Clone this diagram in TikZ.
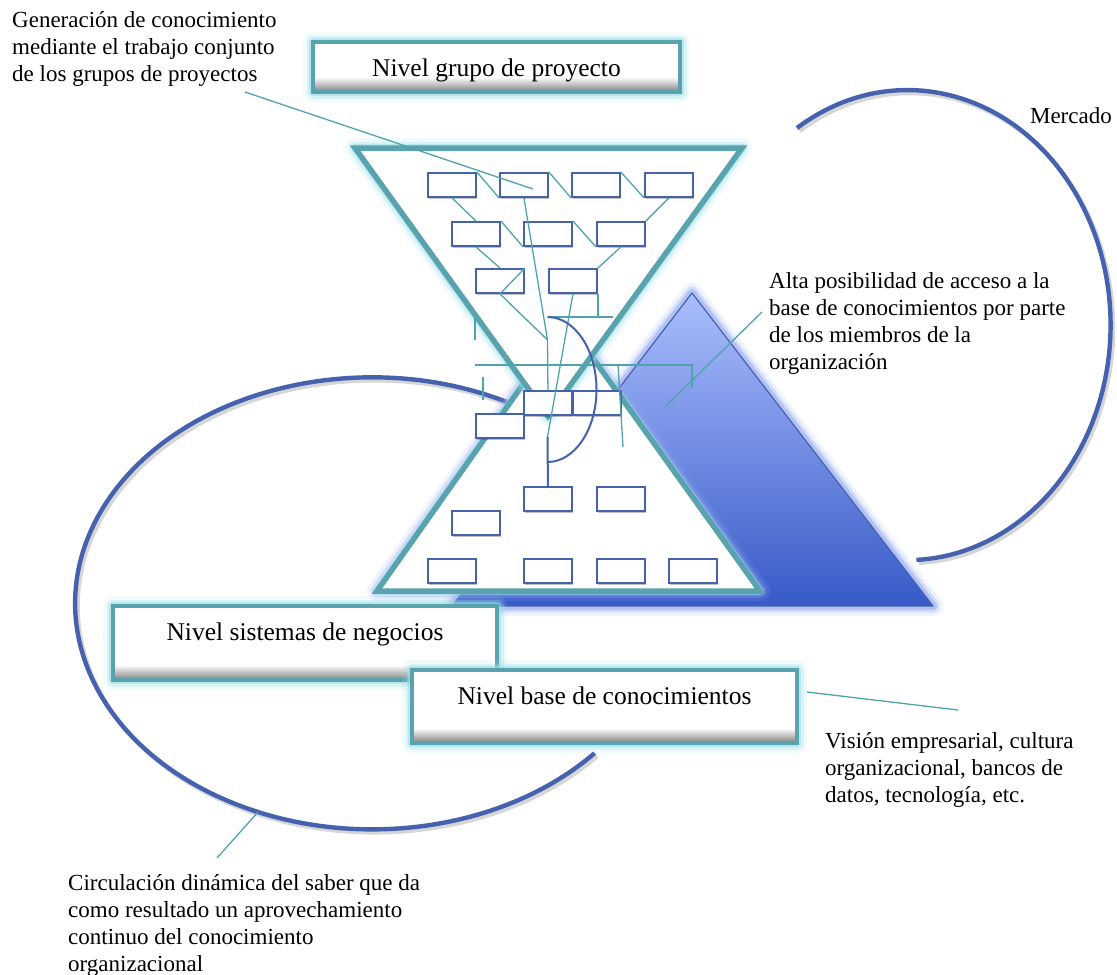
\documentclass[tikz,border=0pt]{standalone}
\usepackage{fontspec}
\setmainfont{Liberation Serif}
\usetikzlibrary{shadows}

\definecolor{tealedge}{RGB}{88,163,173}
\definecolor{tealthin}{RGB}{80,163,172}
\definecolor{glowcyan}{RGB}{160,222,232}
\definecolor{glowblue}{RGB}{150,172,240}
\definecolor{navy}{RGB}{70,98,174}
\definecolor{pyrtop}{RGB}{170,190,252}
\definecolor{pyrbot}{RGB}{55,90,200}

\tikzset{
  orgbox/.style={draw=navy, line width=1.9pt, fill=white, minimum width=48pt,
    minimum height=24pt, inner sep=0pt, anchor=north west,
    drop shadow={shadow xshift=1.5pt, shadow yshift=-2.5pt, opacity=0.25, fill=black}},
  conn/.style={draw=tealthin, line width=1.3pt},
  navyline/.style={draw=navy, line width=2pt},
  bigarc/.style={draw=navy, line width=4.4pt},
  arcshadow/.style={draw=black, line width=4.4pt, opacity=0.16},
  note/.style={anchor=base west, align=left, inner sep=0pt, font=\fontsize{23}{27}\selectfont},
  title/.style={anchor=base, inner sep=0pt, font=\fontsize{25.5}{30}\selectfont},
  glowA/.style={line width=20pt, opacity=0.15, line join=round, line cap=round},
  glowB/.style={line width=13pt, opacity=0.3, line join=round, line cap=round},
  glowC/.style={line width=8pt, opacity=0.55, line join=round, line cap=round},
}

% level box: name, x1, y1, x2, y2, text baseline, text
\newcommand\nivelbox[7]{%
  \draw[glowcyan,glowA] (#2,#3) rectangle (#4,#5);
  \draw[glowcyan,glowB] (#2,#3) rectangle (#4,#5);
  \draw[glowcyan,glowC] (#2,#3) rectangle (#4,#5);
  \node[fill=white, inner sep=0pt, minimum width={#4-#2}, minimum height={#5-#3}]
    (#1) at ({(#2+#4)/2},{(#3+#5)/2}) {};
  \shade[top color=white, bottom color=black!50] (#2,{#5-15}) rectangle (#4,#5);
  \draw[tealedge, line width=4.5pt] (#1.north west) rectangle (#1.south east);
  \node[title] (#1-text) at ({(#2+#4)/2},#6) {#7};
}

\begin{document}
\begin{tikzpicture}[x=1pt, y=-1pt]
\useasboundingbox (0,0) rectangle (1117,975);

% ---------- market and circulation arcs ----------
\draw[arcshadow] (799.5,131) arc[start angle=-123, end angle=87.5, x radius=203, y radius=235];
\draw[bigarc] (797,128) arc[start angle=-123, end angle=87.5, x radius=203, y radius=235];
\draw[arcshadow] (509.5,405) arc[start angle=-63, end angle=-318.5, x radius=297, y radius=226];
\draw[bigarc] (507,402) arc[start angle=-63, end angle=-318.5, x radius=297, y radius=226];

% ---------- knowledge base pyramid ----------
\coordinate (QA) at (692,293);
\coordinate (QB) at (452,606);
\coordinate (QC) at (933,606);
\draw[glowblue,glowA] (QA) -- (QB) -- (QC) -- cycle;
\draw[glowblue,glowB] (QA) -- (QB) -- (QC) -- cycle;
\draw[glowblue,glowC] (QA) -- (QB) -- (QC) -- cycle;
\shade[top color=pyrtop, bottom color=pyrbot] (QA) -- (QB) -- (QC) -- cycle;
\draw[navy, line width=1.2pt, line join=round] (QA) -- (QB) -- (QC) -- cycle;

% ---------- hourglass: lower triangle, then upper triangle over it ----------
\coordinate (TA) at (355,148);
\coordinate (TB) at (742,148);
\coordinate (TC) at (548,416);
\coordinate (BA) at (377,591);
\coordinate (BB) at (760,591);
\coordinate (BC) at (567,322);

\draw[glowblue,glowA] (BA) -- (BB) -- (BC) -- cycle;
\draw[glowblue,glowB] (BA) -- (BB) -- (BC) -- cycle;
\draw[glowcyan,glowC] (BA) -- (BB) -- (BC) -- cycle;
\fill[white] (BA) -- (BB) -- (BC) -- cycle;
\draw[tealedge, line width=5.5pt] (BA) -- (BB) -- (BC) -- cycle;

\draw[glowcyan,glowA] (TA) -- (TB) -- (TC) -- cycle;
\draw[glowcyan,glowB] (TA) -- (TB) -- (TC) -- cycle;
\draw[glowcyan,glowC] (TA) -- (TB) -- (TC) -- cycle;
\fill[white] (TA) -- (TB) -- (TC) -- cycle;
\draw[tealedge, line width=5.5pt] (TA) -- (TB) -- (TC) -- cycle;

% ---------- project groups (upper tree) ----------
\node[orgbox] (t1) at (427,172) {};
\node[orgbox] (t2) at (499,172) {};
\node[orgbox] (t3) at (571,172) {};
\node[orgbox] (t4) at (644,172) {};
\node[orgbox] (m1) at (451,221) {};
\node[orgbox] (m2) at (523,221) {};
\node[orgbox] (m3) at (596,221) {};
\node[orgbox] (n1) at (475,268) {};
\node[orgbox] (n2) at (548,268) {};

\draw[conn] (t1.north east) -- (t2.south west);
\draw[conn] (t2.north east) -- (t3.south west);
\draw[conn] (t3.north east) -- (t4.south west);
\draw[conn] (t1.south) -- (m1.north);
\draw[conn] (m1.north east) -- (m2.south west);
\draw[conn] (m2.north east) -- (m3.south west);
\draw[conn] (t4.south) -- (m3.north east);
\draw[conn] (m1.south) -- (n1.north);
\draw[conn] (m3.south) -- (n2.north east);

% ---------- business systems (centre and lower tree) ----------
\node[orgbox] (cA) at (523,390) {};
\node[orgbox] (cB) at (572,390) {};
\node[orgbox] (cC) at (475,413) {};
\node[orgbox] (b1) at (523,486) {};
\node[orgbox] (b2) at (596,486) {};
\node[orgbox] (b3) at (451,510) {};
\node[orgbox] (u1) at (427,558) {};
\node[orgbox] (u2) at (523,558) {};
\node[orgbox] (u3) at (596,558) {};
\node[orgbox] (u4) at (668,558) {};

\coordinate (j1) at (547.5,340);
\coordinate (j2) at (547.5,437);
\coordinate (j3) at (547.5,317);
\coordinate (h1) at (548,317);
\coordinate (h2) at (613,317);
\coordinate (g1) at (475,365);
\coordinate (g2) at (692,365);
\coordinate (g3) at (692,388);
\coordinate (s1) at (618,365);
\coordinate (s2) at (623,447);
\coordinate (v1) at (475,317);
\coordinate (v2) at (475,340);
\coordinate (w1) at (483,377);
\coordinate (w2) at (483,400);

\draw[conn] (n1.north east) -- (n1.south) -- (j1);
\draw[conn] (t2.south) -- (j1) -- (cA.north);
\draw[conn] (n2.south) -- (j2);
\draw[conn] (n2.south east) -- (n2.south east |- h1);
\draw[conn] (h1) -- (h2);
\draw[conn] (g1) -- (g2) -- (g3);
\draw[conn] (s1) -- (s2);
\draw[conn] (v1) -- (v2);
\draw[conn] (w1) -- (w2);

\draw[navyline] (j2) -- (b1.north);
\draw[navyline] (j3) arc[start angle=-90, end angle=90, x radius=49, y radius=72.5];

% ---------- level boxes ----------
\nivelbox{lvgrupo}{313}{42}{680}{92}{76}{Nivel grupo de proyecto}
\nivelbox{lvsistemas}{113}{606}{497}{680}{640}{Nivel sistemas de negocios}
\nivelbox{lvbase}{412}{670}{797}{743}{704}{Nivel base de conocimientos}

% ---------- annotations (anchored at the baseline of their last line) ----------
\node[note] (gen) at (12,81) {Generación de conocimiento\\mediante el trabajo conjunto\\de los grupos de proyectos};
\coordinate (gen-end) at (245,92);
\coordinate (gen-tip) at (533,189);
\draw[conn] (gen-end) -- (gen-tip);

\node[anchor=base east, inner sep=0pt, font=\fontsize{23}{27}\selectfont] (mercado) at (1112,123) {Mercado};

\node[note] (alta) at (769,369) {Alta posibilidad de acceso a la\\base de conocimientos por parte\\de los miembros de la\\organización};
\coordinate (alta-end) at (762,312);
\coordinate (alta-tip) at (665,407);
\draw[conn] (alta-end) -- (alta-tip);

\node[note] (vision) at (825,802) {Visión empresarial, cultura\\organizacional, bancos de\\datos, tecnología, etc.};
\coordinate (vis-start) at (807,692);
\coordinate (vis-end) at (958,710);
\draw[conn] (vis-start) -- (vis-end);

\node[note] (circ) at (68,971) {Circulación dinámica del saber que da\\como resultado un aprovechamiento\\continuo del conocimiento\\organizacional};
\coordinate (circ-end) at (217,858);
\coordinate (circ-tip) at (258,812);
\draw[conn] (circ-end) -- (circ-tip);
\end{tikzpicture}
\end{document}
